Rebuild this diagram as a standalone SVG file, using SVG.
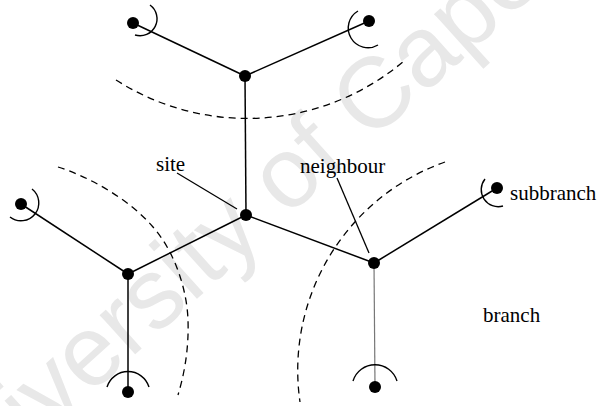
<svg xmlns="http://www.w3.org/2000/svg" width="600" height="406" viewBox="0 0 600 406">
  <style>
    .edge { stroke: #000; stroke-width: 1.5; fill: none; }
    .thin { stroke: #777; stroke-width: 1.2; fill: none; }
    .ptr { stroke: #000; stroke-width: 1.3; fill: none; }
    .cap { stroke: #000; stroke-width: 1.4; fill: none; }
    .bound { stroke: #000; stroke-width: 1.3; fill: none; stroke-dasharray: 7 5; }
    .dot { fill: #000; }
    .lbl { font-family: "Liberation Serif", "Times New Roman", serif; font-size: 21px; fill: #000; }
    .wm { font-family: "Liberation Sans", Arial, sans-serif; font-size: 100px; fill: #e8e8e8; }
  </style>
  <rect width="600" height="406" fill="#fff"/>

  <!-- background watermark -->
  <text class="wm" transform="translate(-60,530) rotate(-42)">University of Cape Town</text>

  <!-- dashed boundaries -->
  <g id="boundaries">
    <path class="bound" d="M116,80 A243,243 0 0 0 404,61"/>
    <path class="bound" d="M58,167 C90,177 130,200 153,227 C175,252 187,290 188,320 C189,350 184,375 178,395"/>
    <path class="bound" d="M445,162 A221,221 0 0 0 300,402"/>
  </g>

  <!-- branches and label pointers -->
  <g id="connectors">
    <line class="edge" x1="246" y1="215" x2="245" y2="76"/>
    <line class="edge" x1="245" y1="76" x2="133" y2="23"/>
    <line class="edge" x1="245" y1="76" x2="369" y2="21"/>
    <line class="edge" x1="246" y1="215" x2="128" y2="274"/>
    <line class="edge" x1="246" y1="215" x2="374" y2="263"/>
    <line class="edge" x1="128" y1="274" x2="21" y2="204"/>
    <line class="edge" x1="128" y1="274" x2="128" y2="392"/>
    <line class="edge" x1="374" y1="263" x2="497" y2="188"/>
    <line class="thin" x1="374" y1="263" x2="375" y2="387"/>
    <line class="ptr" x1="177" y1="173" x2="237" y2="209"/>
    <line class="ptr" x1="337" y1="178" x2="369" y2="253"/>
  </g>

  <!-- inner nodes -->
  <g id="site"><circle class="dot" cx="246" cy="215" r="6"/></g>
  <g id="node-top"><circle class="dot" cx="245" cy="76" r="6"/></g>
  <g id="node-left"><circle class="dot" cx="128" cy="274" r="6"/></g>
  <g id="neighbour"><circle class="dot" cx="374" cy="263" r="6"/></g>

  <!-- leaves with their caps -->
  <g id="leaf-top-left">
    <circle class="dot" cx="133" cy="23" r="6"/>
    <path class="cap" d="M150,5 A17,17 0 0 1 135,35"/>
  </g>
  <g id="leaf-top-right">
    <circle class="dot" cx="369" cy="21" r="6"/>
    <path class="cap" d="M358,11 A18,18 0 1 0 378,45"/>
  </g>
  <g id="leaf-left">
    <circle class="dot" cx="21" cy="204" r="6"/>
    <path class="cap" d="M32,189 A17,17 0 0 1 10,217"/>
  </g>
  <g id="leaf-bottom-left">
    <circle class="dot" cx="128" cy="392" r="6"/>
    <path class="cap" d="M107,387 A22,22 0 0 1 149,387"/>
  </g>
  <g id="leaf-bottom-right">
    <circle class="dot" cx="375" cy="387" r="6"/>
    <path class="cap" d="M353,381 A23,23 0 0 1 397,381"/>
  </g>
  <g id="leaf-right">
    <circle class="dot" cx="497" cy="188" r="6"/>
    <path class="cap" d="M503,206 A17,17 0 0 1 485,179"/>
  </g>

  <!-- labels -->
  <g id="labels">
    <text class="lbl" x="156" y="171" font-size="20">site</text>
    <text class="lbl" x="300" y="173">neighbour</text>
    <text class="lbl" x="510" y="200">subbranch</text>
    <text class="lbl" x="483" y="322">branch</text>
  </g>
</svg>
